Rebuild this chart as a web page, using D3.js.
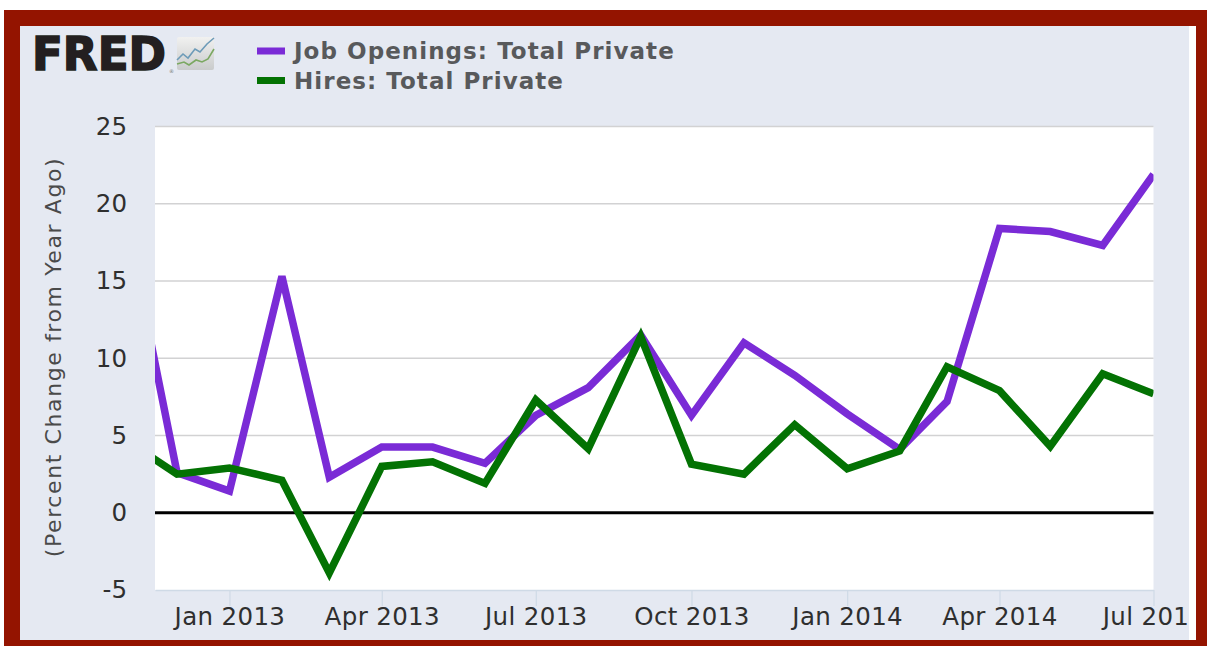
<!DOCTYPE html>
<html>
<head>
<meta charset="utf-8">
<script src="https://cdn.jsdelivr.net/npm/d3@7"></script>
<style>
html,body{margin:0;padding:0;background:#fff;overflow:hidden}
svg{display:block}
text{font-family:"DejaVu Sans",sans-serif}
</style>
</head>
<body>
<svg id="chart" width="1207" height="646"></svg>
<script>
// Monthly observations, percent change from a year earlier
const months = ["2012-11","2012-12","2013-01","2013-02","2013-03","2013-04","2013-05","2013-06","2013-07","2013-08","2013-09","2013-10","2013-11","2013-12","2014-01","2014-02","2014-03","2014-04","2014-05","2014-06","2014-07"];
const jobOpenings = [19,2.6,1.4,15.3,2.3,4.25,4.25,3.2,6.3,8.1,11.5,6.3,11.0,8.9,6.4,4.1,7.2,18.4,18.2,17.3,21.9];
const hires = [4.7,2.5,2.9,2.1,-3.9,3.0,3.3,1.9,7.3,4.15,11.4,3.15,2.5,5.7,2.85,4.0,9.45,7.9,4.3,9.0,7.7];
const yTicks = [-5,0,5,10,15,20,25];
const xTickMonths = ["2013-01","2013-04","2013-07","2013-10","2014-01","2014-04","2014-07"];
const xDomain = ["2012-11-18","2014-07-01"];
const seriesNames = ["Job Openings: Total Private","Hires: Total Private"];
const seriesColors = ["#7a2bd6","#037203"];

const parseMonth = d3.utcParse("%Y-%m");
const parseDay = d3.utcParse("%Y-%m-%d");
const dates = months.map(parseMonth);

const svg = d3.select("#chart");
const plot = {left:155,right:1153.5,top:126.5,bottom:590};

// Frame and panel
svg.append("rect").attr("x",4).attr("y",10).attr("width",1203).attr("height",636).attr("fill","#941400");
svg.append("rect").attr("x",20).attr("y",26).attr("width",1176).attr("height",614).attr("fill","#ffffff");
svg.append("rect").attr("x",20).attr("y",26).attr("width",1169).attr("height",614).attr("fill","#e5e9f2");

const defs = svg.append("defs");
defs.append("clipPath").attr("id","plot-clip").append("rect")
  .attr("x",plot.left).attr("y",plot.top-3).attr("width",plot.right-plot.left).attr("height",plot.bottom-plot.top+3);
defs.append("clipPath").attr("id","panel-clip").append("rect")
  .attr("x",20).attr("y",26).attr("width",1169).attr("height",614);

const x = d3.scaleUtc().domain(xDomain.map(parseDay)).range([plot.left,plot.right]);
const y = d3.scaleLinear().domain([-5,25]).range([plot.bottom,plot.top]);

svg.append("rect").attr("x",plot.left).attr("y",plot.top).attr("width",plot.right-plot.left).attr("height",plot.bottom-plot.top).attr("fill","#fff");

// Horizontal grid
svg.append("g").selectAll("line").data(yTicks.filter(d=>d!==-5)).join("line")
  .attr("x1",plot.left).attr("x2",plot.right)
  .attr("y1",d=>y(d)).attr("y2",d=>y(d))
  .attr("stroke","#d2d2d3").attr("stroke-width",1.6);

// Y axis labels
const yAxis = svg.append("g").attr("transform",`translate(${plot.left},0)`)
  .call(d3.axisLeft(y).tickValues(yTicks).tickSize(0).tickPadding(28).tickFormat(d=>String(d)));
yAxis.select(".domain").remove();
yAxis.selectAll("text").attr("font-size",24.5).attr("fill","#2f2f2f").style("font-family",'"DejaVu Sans",sans-serif');

// X axis with ticks hanging from the plot floor; the last label runs off the panel
const xAxisClip = svg.append("g").attr("clip-path","url(#panel-clip)");
const xAxis = xAxisClip.append("g").attr("transform",`translate(0,${plot.bottom})`)
  .call(d3.axisBottom(x).tickValues(xTickMonths.map(parseMonth)).tickSize(16).tickSizeOuter(0).tickPadding(2).tickFormat(d3.utcFormat("%b %Y")));
xAxis.select(".domain").attr("stroke","#cfdae6").attr("stroke-width",1.5);
xAxis.selectAll(".tick line").attr("stroke","#cfdae6").attr("stroke-width",1.2);
xAxis.selectAll("text").attr("font-size",24.5).attr("letter-spacing",0.35).attr("fill","#2f2f2f").style("font-family",'"DejaVu Sans",sans-serif');

// Y axis title
svg.append("text").attr("transform","translate(61,357) rotate(-90)")
  .attr("text-anchor","middle").attr("font-size",22).attr("fill","#4a4a4a").attr("letter-spacing",1.6)
  .text("(Percent Change from Year Ago)");

// Zero line
svg.append("line").attr("x1",plot.left).attr("x2",plot.right).attr("y1",y(0)).attr("y2",y(0))
  .attr("stroke","#000").attr("stroke-width",3);

// Series
const line = d3.line().x((d,i)=>x(dates[i])).y(d=>y(d));
const lines = svg.append("g").attr("clip-path","url(#plot-clip)");
[jobOpenings,hires].forEach((vals,i)=>{
  lines.append("path").attr("d",line(vals)).attr("fill","none")
    .attr("stroke",seriesColors[i]).attr("stroke-width",7.5).attr("stroke-linejoin","miter").attr("stroke-miterlimit",3);
});

// Legend
const legend = svg.append("g");
seriesNames.forEach((name,i)=>{
  const ly = 51 + i*29.5;
  legend.append("rect").attr("x",257).attr("y",ly-3.5).attr("width",28).attr("height",7).attr("fill",seriesColors[i]);
  legend.append("text").attr("x",294).attr("y",ly+8).attr("font-size",23).attr("font-weight","bold")
    .attr("fill","#58595b").attr("letter-spacing",1.05).text(name);
});

// Wordmark with its small chart badge
const logo = svg.append("g");
logo.append("text").attr("x",32).attr("y",70).attr("font-family","Liberation Sans").attr("font-size",47)
  .attr("font-weight","bold").attr("fill","#231f20").attr("stroke","#231f20").attr("stroke-width",1.6)
  .attr("textLength",134).attr("lengthAdjust","spacingAndGlyphs").text("FRED");
const badgeGrad = defs.append("linearGradient").attr("id","badge").attr("x1",0).attr("y1",0).attr("x2",0).attr("y2",1);
badgeGrad.append("stop").attr("offset",0).attr("stop-color","#f1f1f0");
badgeGrad.append("stop").attr("offset",1).attr("stop-color","#c9cbcc");
logo.append("rect").attr("x",177).attr("y",37).attr("width",37).attr("height",33).attr("rx",2).attr("fill","url(#badge)");
const badgeBlue = [[177,60],[183,54],[188,58],[195,49],[200,52],[207,44],[214,38]];
const badgeGreen = [[177,64],[184,62],[189,65],[196,60],[202,62],[208,59],[214,49]];
[[badgeBlue,"#6d9bb8"],[badgeGreen,"#7ba862"]].forEach(([pts,c])=>{
  logo.append("path").attr("d",d3.line()(pts)).attr("fill","none").attr("stroke",c).attr("stroke-width",1.6);
});
logo.append("text").attr("x",169).attr("y",73).attr("font-size",5).attr("fill","#777").text("®");
</script>
</body>
</html>
